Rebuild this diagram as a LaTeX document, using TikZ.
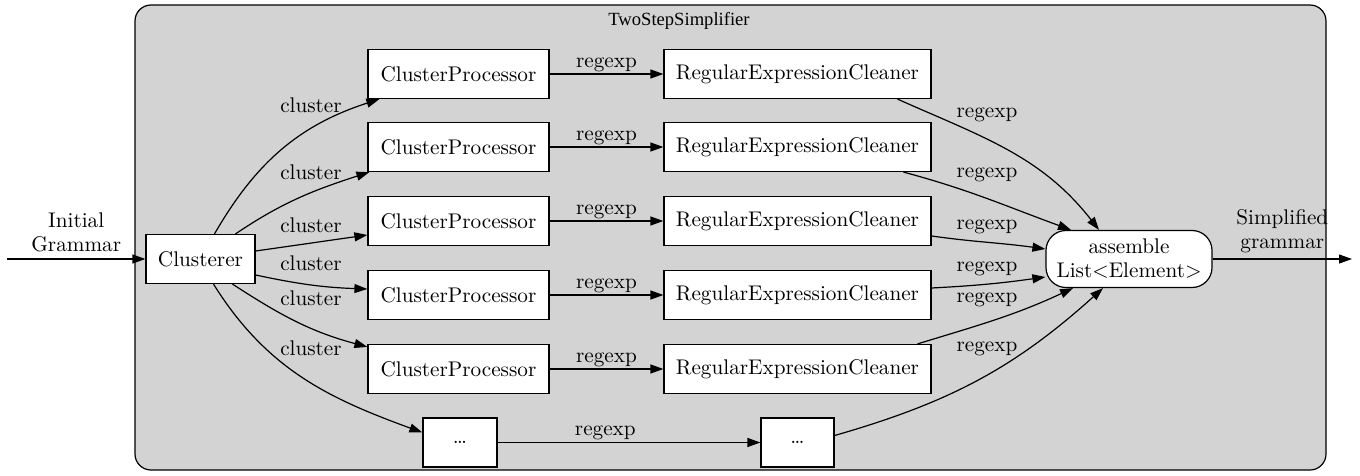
\documentclass[tikz,border=0pt]{standalone}
\usepackage{fontspec}
\newfontfamily\titlefont{Liberation Serif}
\usepackage{tikz}
\usetikzlibrary{arrows.meta, positioning}
\definecolor{clusterfill}{HTML}{D3D3D3}

\begin{document}
\begin{tikzpicture}[x=0.5pt, y=-0.5pt, line width=0.6pt,
  every node/.style = {font=\fontsize{10.6}{12}\selectfont},
  proc/.style = {shape=rectangle, draw, fill=white,
    minimum height=24.5pt, inner sep=0pt},
  edge/.style = {-{Triangle[length=6.5pt, width=4.5pt]}},
  lbl/.style = {inner sep=1pt}]
  \useasboundingbox (0,0) rectangle (1360,476);
  \draw[fill=clusterfill, rounded corners=8pt] (135,5) rectangle (1326,470);
  \node (title) at (679,21) {\titlefont\fontsize{9.3}{11}\selectfont TwoStepSimplifier};

  \node[proc, minimum width=54.5pt] (cl) at (200.5,259) {Clusterer};
  \foreach \i/\y in {1/74, 2/147, 3/221, 4/295, 5/369} {
    \node[proc, minimum width=90.5pt] (cp\i) at (458.5,\y) {ClusterProcessor};
    \node[proc, minimum width=133.5pt] (rc\i) at (797.5,\y) {RegularExpressionCleaner};
    \draw[edge] (cp\i) -- node[lbl, above] {regexp} (rc\i);
  }
  \node[proc, minimum width=37pt] (dots1) at (460,442.5) {\dots};
  \node[proc, minimum width=36.5pt] (dots2) at (797.5,442.5) {\dots};
  \draw[edge] (dots1) -- node[lbl, above, pos=.41] {regexp} (dots2);
  \node[proc, rounded corners=10pt, minimum width=83pt, minimum height=28.5pt,
    align=center] (asm) at (1129,259) {assemble\\List<Element>};

  % in and out
  \coordinate (src) at (7,259);
  \coordinate (sink) at (1352,259);
  \draw[edge] (src) -- node[lbl, above=2pt, align=center] {Initial\\Grammar} (cl);
  \draw[edge] (asm) -- node[lbl, above=2pt, align=center] {Simplified\\grammar} (sink);

  % clusterer to processors
  \draw[edge] ([xshift=7pt]cl.north) to[out=60, in=198]
    ([xshift=6pt]cp1.south west) node[lbl] at (311,105) {cluster};
  \draw[edge] ([xshift=17.5pt]cl.north) to[out=34, in=198]
    ([xshift=1pt]cp2.south west) node[lbl] at (311,172) {cluster};
  \draw[edge] ([yshift=4pt]cl.east) --
    ([yshift=-7pt]cp3.west) node[lbl] at (311,225) {cluster};
  \draw[edge] ([yshift=-8pt]cl.east) to[out=-12, in=178]
    ([yshift=3pt]cp4.west) node[lbl] at (311,263) {cluster};
  \draw[edge] ([xshift=16pt]cl.south) to[out=-33, in=165]
    ([yshift=-1.5pt]cp5.north west) node[lbl] at (311,298) {cluster};
  \draw[edge] ([xshift=6.5pt]cl.south) to[out=-58, in=160]
    ([yshift=5pt]dots1.west) node[lbl] at (311,348) {cluster};

  % cleaners to assemble
  \draw[edge] ([xshift=50pt]rc1.south) to[out=-24, in=128]
    ([xshift=-15pt]asm.north) node[lbl] at (987,115) {regexp};
  \draw[edge] ([xshift=53pt]rc2.south) to[out=-15, in=160]
    ([xshift=-29pt]asm.north) node[lbl] at (987,175) {regexp};
  \draw[edge] ([yshift=-7.5pt]rc3.east) to[out=-8, in=172]
    ([yshift=5pt]asm.west) node[lbl] at (987,227) {regexp};
  \draw[edge] ([yshift=3.5pt]rc4.east) to[out=3, in=188]
    ([yshift=-9pt]asm.west) node[lbl] at (987,269) {regexp};
  \draw[edge] ([xshift=60pt]rc5.north) to[out=17, in=205]
    ([xshift=-28pt]asm.south) node[lbl] at (987,300) {regexp};
  \draw[edge] ([yshift=3.5pt]dots2.east) to[out=16, in=222]
    ([xshift=-13pt]asm.south) node[lbl] at (987,349) {regexp};
\end{tikzpicture}
\end{document}
